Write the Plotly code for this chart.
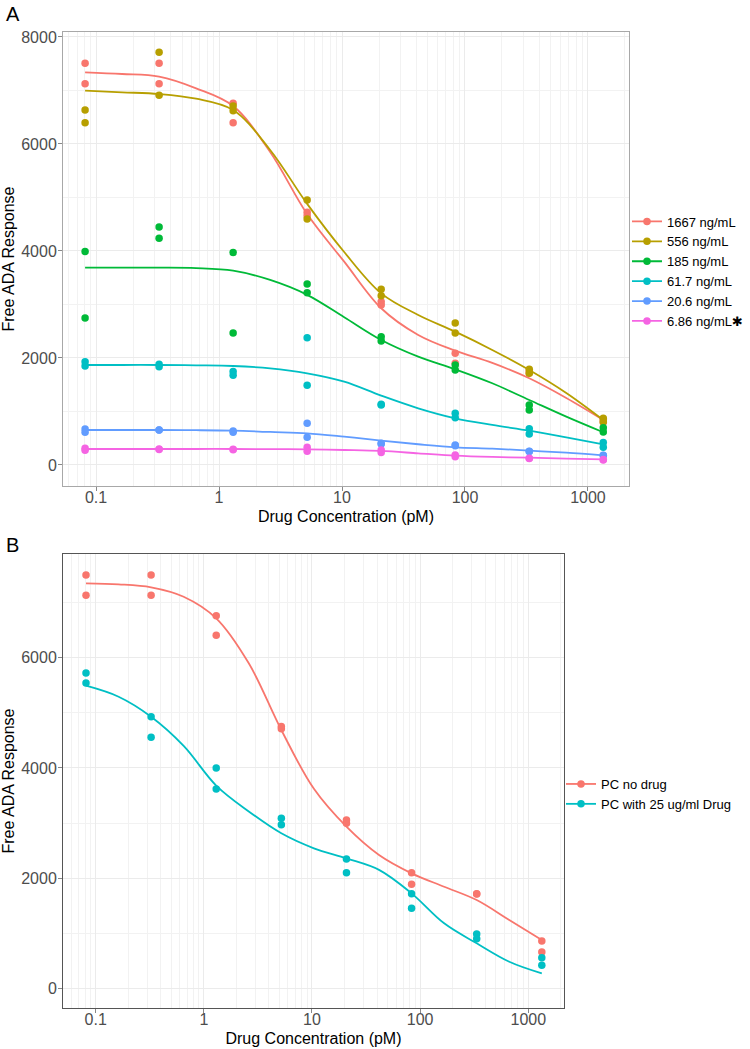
import plotly.graph_objects as go

# ---------------- data ----------------
conc = [0.0814, 0.3255, 1.302, 5.208, 20.83, 83.33, 333.3, 1333]
curve_x = [0.0814, 0.163, 0.3255, 0.651, 1.302, 2.604, 5.208, 10.42,
           20.83, 41.67, 83.33, 166.7, 333.3, 666.7, 1333]

names_a = ["1667 ng/mL", "556 ng/mL", "185 ng/mL", "61.7 ng/mL", "20.6 ng/mL", "6.86 ng/mL✱"]
colors_a = ["#F8766D", "#B79F00", "#00BA38", "#00BFC4", "#619CFF", "#F564E3"]

# replicate points (two per concentration)
pts_1667 = [7508, 7127, 7508, 7127, 6760, 6398, 4723, 4660, 3053, 2990, 2087, 1900, 1760, 1720, 850, 800]
pts_556 = [6636, 6398, 7713, 6910, 6710, 6623, 4953, 4598, 3283, 3165, 2654, 2467, 1788, 1713, 872, 810]
pts_185 = [3988, 2748, 4449, 4237, 3970, 2467, 3383, 3221, 2399, 2318, 1869, 1776, 1121, 1028, 698, 617]
pts_61_7 = [1931, 1850, 1882, 1838, 1745, 1676, 2380, 1490, 1134, 1120, 966, 885, 679, 580, 418, 331]
pts_20_6 = [673, 611, 654, 654, 636, 611, 779, 517, 405, 390, 374, 360, 256, 250, 181, 175]
pts_6_86 = [312, 274, 299, 290, 293, 285, 330, 256, 280, 231, 187, 156, 125, 120, 100, 95]

# fitted curves
fit_1667 = [7340, 7308, 7258, 7040, 6710, 5850, 4690, 3800, 2929, 2430, 2136, 1907, 1620, 1252, 841]
fit_556 = [6997, 6966, 6935, 6847, 6636, 5888, 4880, 3980, 3208, 2804, 2492, 2150, 1776, 1346, 841]
fit_185 = [3688, 3688, 3688, 3680, 3632, 3458, 3180, 2761, 2336, 2025, 1788, 1527, 1215, 903, 611]
fit_61_7 = [1869, 1869, 1869, 1862, 1850, 1807, 1713, 1557, 1296, 1059, 872, 748, 641, 517, 387]
fit_20_6 = [654, 654, 654, 650, 641, 617, 592, 529, 455, 387, 330, 305, 268, 231, 181]
fit_6_86 = [299, 299, 299, 299, 299, 297, 293, 280, 262, 218, 174, 150, 137, 118, 106]

names_b = ["PC no drug", "PC with 25 ug/ml Drug"]
colors_b = ["#F8766D", "#00BFC4"]
pts_no_drug = [7501, 7132, 7501, 7132, 6762, 6406, 4750, 4711, 3054, 2995, 2098, 1887, 1717, 1712, 858, 659]
pts_drug = [5722, 5541, 4929, 4555, 3998, 3617, 3085, 2970, 2347, 2098, 1717, 1452, 985, 900, 555, 417]
fit_no_drug = [7350, 7332, 7278, 7107, 6715, 5898, 4688, 3620, 2933, 2419, 2087, 1844, 1602, 1240, 877]
fit_drug = [5492, 5292, 4929, 4400, 3680, 3210, 2813, 2541, 2359, 2150, 1724, 1180, 817, 483, 272]

x_tickvals = [0.1, 1, 10, 100, 1000]
x_ticktext = ["0.1", "1", "10", "100", "1000"]

# ---------------- figure ----------------
W, H = 750, 1049
FONT = "Liberation Sans, Arial, Helvetica, DejaVu Sans, sans-serif"
fig = go.Figure()

x_rep = [c for c in conc for _ in range(2)]

pts_a = [pts_1667, pts_556, pts_185, pts_61_7, pts_20_6, pts_6_86]
fit_a = [fit_1667, fit_556, fit_185, fit_61_7, fit_20_6, fit_6_86]
for name, col, p, f in zip(names_a, colors_a, pts_a, fit_a):
    fig.add_trace(go.Scatter(x=x_rep, y=p, mode="markers", xaxis="x", yaxis="y",
                             marker=dict(color=col, size=7.5), showlegend=False, legendgroup=name))
    fig.add_trace(go.Scatter(x=curve_x, y=f, mode="lines", xaxis="x", yaxis="y",
                             line=dict(color=col, width=1.8, shape="spline"),
                             showlegend=False, legendgroup=name))
for name, col in zip(names_a, colors_a):
    fig.add_trace(go.Scatter(x=[None], y=[None], mode="lines+markers", xaxis="x", yaxis="y",
                             marker=dict(color=col, size=7.5), line=dict(color=col, width=1.8),
                             name=name, legend="legend", legendgroup=name))

pts_b = [pts_no_drug, pts_drug]
fit_b = [fit_no_drug, fit_drug]
for name, col, p, f in zip(names_b, colors_b, pts_b, fit_b):
    fig.add_trace(go.Scatter(x=x_rep, y=p, mode="markers", xaxis="x2", yaxis="y2",
                             marker=dict(color=col, size=7.5), showlegend=False, legendgroup=name))
    fig.add_trace(go.Scatter(x=curve_x, y=f, mode="lines", xaxis="x2", yaxis="y2",
                             line=dict(color=col, width=1.8, shape="spline"),
                             showlegend=False, legendgroup=name))
for name, col in zip(names_b, colors_b):
    fig.add_trace(go.Scatter(x=[None], y=[None], mode="lines+markers", xaxis="x2", yaxis="y2",
                             marker=dict(color=col, size=7.5), line=dict(color=col, width=1.8),
                             name=name, legend="legend2", legendgroup=name))

tickfont = dict(family=FONT, size=16, color="#4D4D4D")
titlefont = dict(family=FONT, size=16, color="black")


def xax(domain, rng, linecolor, anchor):
    return dict(type="log", domain=domain, range=rng, anchor=anchor, automargin=False,
                tickvals=x_tickvals, ticktext=x_ticktext, tickfont=tickfont,
                ticklabelstandoff=-7,
                title=dict(text="Drug Concentration (pM)", font=titlefont, standoff=5),
                showgrid=True, gridcolor="#EBEBEB", gridwidth=1,
                minor=dict(dtick="D1", showgrid=True, gridcolor="#F2F2F2", gridwidth=1, ticks=""),
                showline=True, linecolor=linecolor, linewidth=1, mirror=True,
                ticks="outside", ticklen=4, tickcolor="#888888", zeroline=False)


def yax(domain, rng, linecolor, anchor, tv):
    return dict(domain=domain, range=rng, anchor=anchor, tickvals=tv, tickfont=tickfont,
                automargin=False, ticklabelstandoff=-2,
                title=dict(text="Free ADA Response", font=titlefont, standoff=4),
                showgrid=True, gridcolor="#EBEBEB", gridwidth=1,
                minor=dict(dtick=1000, showgrid=True, gridcolor="#F2F2F2", gridwidth=1, ticks=""),
                showline=True, linecolor=linecolor, linewidth=1, mirror=True,
                ticks="outside", ticklen=4, tickcolor="#888888", zeroline=False)


fig.update_layout(
    width=W, height=H,
    margin=dict(l=0, r=0, t=0, b=0, autoexpand=False),
    paper_bgcolor="white", plot_bgcolor="white",
    font=dict(family=FONT),
    xaxis=xax([63 / W, 629 / W], [-1.269, 3.334], "#A8A8A8", "y"),
    yaxis=yax([1 - 486 / H, 1 - 32 / H], [-393, 8093], "#A8A8A8", "x", [0, 2000, 4000, 6000, 8000]),
    xaxis2=xax([63 / W, 564 / W], [-1.302, 3.33], "#555555", "y2"),
    yaxis2=yax([1 - 1008 / H, 1 - 554 / H], [-357, 7882], "#555555", "x2", [0, 2000, 4000, 6000]),
    legend=dict(x=627 / W, xanchor="left", y=1 - 271.5 / H, yanchor="middle",
                font=dict(family=FONT, size=13, color="black"), bgcolor="rgba(0,0,0,0)",
                tracegroupgap=0),
    legend2=dict(x=561 / W, xanchor="left", y=1 - 794 / H, yanchor="middle",
                 font=dict(family=FONT, size=13, color="black"), bgcolor="rgba(0,0,0,0)",
                 tracegroupgap=0),
    annotations=[
        dict(text="A", x=4 / W, y=1 - 14 / H, xref="paper", yref="paper", xanchor="left",
             yanchor="middle", showarrow=False, font=dict(family=FONT, size=20, color="black")),
        dict(text="B", x=4 / W, y=1 - 545 / H, xref="paper", yref="paper", xanchor="left",
             yanchor="middle", showarrow=False, font=dict(family=FONT, size=20, color="black")),
    ],
)

fig.write_html("out.html", config={"displayModeBar": False},
               post_script="document.body.style.margin='0';document.body.style.padding='0';")
